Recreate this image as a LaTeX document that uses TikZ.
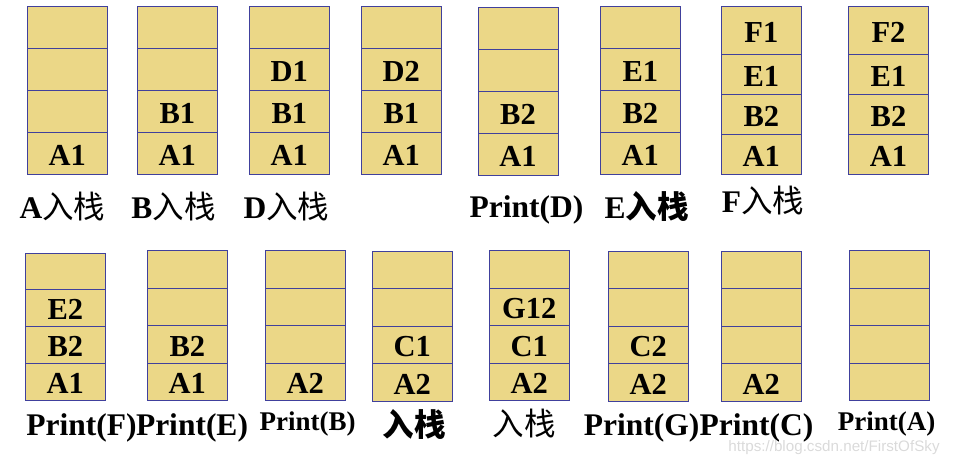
\documentclass[tikz,border=0pt]{standalone}
\usepackage{fontspec}
\setmainfont{Liberation Serif}
\setsansfont{Liberation Sans}
\newfontfamily\cjk{Noto Sans CJK SC}
\usepackage{tikz}
\usetikzlibrary{positioning}
\definecolor{cellfill}{HTML}{EBD787}
\definecolor{cellline}{HTML}{40409C}
\definecolor{markgray}{HTML}{DADADA}

\begin{document}
\begin{tikzpicture}[
  x=1pt, y=-1pt,
  cell/.style={draw=cellline, fill=cellfill, line width=0.8pt,
    minimum width=80pt, inner sep=0pt, outer sep=0pt,
    text height=24pt, text depth=0pt,
    font=\bfseries\fontsize{30.5}{30.5}\selectfont},
  lbl/.style={anchor=base, inner sep=0pt,
    font=\bfseries\fontsize{31.5}{31.5}\selectfont},
  lblsm/.style={lbl, font=\bfseries\fontsize{27}{27}\selectfont},
]
  \useasboundingbox (0,0) rectangle (953,463);

  % Stacks: name / left / top / top cell height / other cell height / cells top to bottom
  \foreach \n/\x/\y/\ha/\hb/\ta/\tb/\tc/\td in {
      st1/27.3/6/42/42/{}/{}/{}/A1,
      st2/137.3/6/42/42/{}/{}/B1/A1,
      st3/249.3/6/42/42/{}/D1/B1/A1,
      st4/361.3/6/42/42/{}/D2/B1/A1,
      st5/478/7.3/42/42/{}/{}/B2/A1,
      st6/600.3/6/42/42/{}/E1/B2/A1,
      st7/721.3/6/48.3/40/F1/E1/B2/A1,
      st8/848.5/6/48.3/40/F2/E1/B2/A1,
      st9/25.3/253.3/36/37/{}/E2/B2/A1,
      st10/147.3/250.3/38/37.33/{}/{}/B2/A1,
      st11/265.3/250.3/38/37.33/{}/{}/{}/A2,
      st12/372.3/251.3/37/37.67/{}/{}/C1/A2,
      st13/489.3/250.3/38/37.33/{}/G12/C1/A2,
      st14/608.3/251.3/37/37.67/{}/{}/C2/A2,
      st15/721.3/251.3/37/37.67/{}/{}/{}/A2,
      st16/849.3/250.3/38/37.33/{}/{}/{}/{}}
  {
    \node[cell, minimum height=\ha pt, anchor=north west] (\n-4) at (\x,\y) {\ta};
    \node[cell, minimum height=\hb pt, below=0pt of \n-4] (\n-3) {\tb};
    \node[cell, minimum height=\hb pt, below=0pt of \n-3] (\n-2) {\tc};
    \node[cell, minimum height=\hb pt, below=0pt of \n-2] (\n-1) {\td};
  }

  % Captions, first row
  \node[lbl] (cap1) at (62.5,218)  {A{\cjk\mdseries 入栈}};
  \node[lbl] (cap2) at (173.5,218) {B{\cjk\mdseries 入栈}};
  \node[lbl] (cap3) at (286.5,218) {D{\cjk\mdseries 入栈}};
  \node[lbl] (cap5) at (526.5,217) {Print(D)};
  \node[lbl] (cap6) at (646.5,218) {E{\cjk 入栈}};
  \node[lbl] (cap7) at (763,212)   {F{\cjk\mdseries 入栈}};

  % Captions, second row
  \node[lbl]   (cap9)  at (81.5,435)  {Print(F)};
  \node[lbl]   (cap10) at (192,435)   {Print(E)};
  \node[lblsm] (cap11) at (307.5,430) {Print(B)};
  \node[lbl]   (cap12) at (414,436)   {\cjk 入栈};
  \node[lbl]   (cap13) at (524,435)   {\cjk\mdseries 入栈};
  \node[lbl]   (cap14) at (641.5,435) {Print(G)};
  \node[lbl]   (cap15) at (756.5,435) {Print(C)};
  \node[lblsm] (cap16) at (886.5,430) {Print(A)};

  \node[anchor=base, inner sep=0pt, text=markgray,
    font=\sffamily\fontsize{15.2}{15.2}\selectfont] (mark) at (834,451)
    {https://blog.csdn.net/FirstOfSky};
\end{tikzpicture}
\end{document}
